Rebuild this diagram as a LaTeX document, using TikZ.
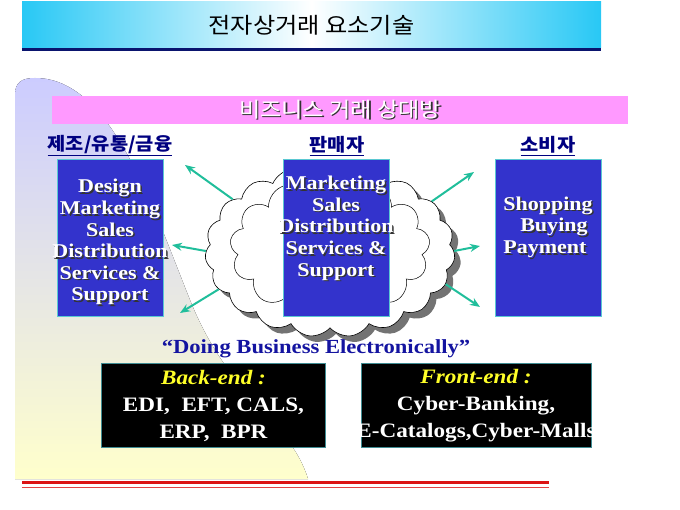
\documentclass[tikz,border=0pt]{standalone}
\usepackage{fontspec}
\setmainfont{Liberation Serif}[FakeStretch=1.13]
\newfontfamily\krfont{Noto Sans CJK KR}[FakeStretch=1.1]
\usetikzlibrary{shapes.symbols,shadows,arrows.meta}

\definecolor{tcyan}{RGB}{40,200,245}
\definecolor{titleline}{RGB}{10,20,110}
\definecolor{barpink}{RGB}{255,153,255}
\definecolor{boxblue}{RGB}{51,51,204}
\definecolor{boxline}{RGB}{90,200,210}
\definecolor{arrowteal}{RGB}{32,190,155}
\definecolor{labnavy}{RGB}{0,0,128}
\definecolor{slogan}{RGB}{20,20,160}
\definecolor{lavender}{RGB}{204,204,255}
\definecolor{paleyellow}{RGB}{255,255,204}
\definecolor{endyellow}{RGB}{255,255,40}
\definecolor{linered}{RGB}{220,20,20}

\newcommand{\shd}[1]{\leavevmode\rlap{\kern1.5pt\raisebox{-1.5pt}{\textcolor{black!80}{#1}}}#1}

\tikzset{
  partybox/.style={draw=boxline, line width=0.8pt, fill=boxblue, minimum width=106pt, minimum height=157pt, inner sep=0pt},
  techbox/.style={draw=boxline!70!black, line width=0.8pt, fill=black, minimum height=84pt, inner sep=0pt},
  partytext/.style={text=white, font=\fontsize{19.5}{21.6}\selectfont\bfseries, align=center},
  techtext/.style={text=white, font=\fontsize{20.5}{27}\selectfont\bfseries, align=center},
  partylabel/.style={text=labnavy, font=\krfont\bfseries\fontsize{18}{20}\selectfont},
  outarrow/.style={draw=arrowteal, line width=2pt, -{Stealth[length=10pt,width=8pt]}}
}

\begin{document}
\begin{tikzpicture}[x=1pt,y=-1pt]
\useasboundingbox (0,0) rectangle (680,510);

\fill[top color=lavender, bottom color=paleyellow] (15,479) -- (15,95) .. controls (15,82) and (22,78) .. (35,78) .. controls (110,78) and (150,200) .. (190,300) .. controls (230,400) and (290,420) .. (308,479) -- cycle;

\node[minimum width=579pt, minimum height=46pt, inner sep=0pt, left color=tcyan, right color=tcyan, middle color=white, font=\krfont\fontsize{22}{24}\selectfont] (title) at (311.5,25) {전자상거래 요소기술};
\draw[titleline, line width=3pt] ([yshift=-1.5pt]title.south west) -- ([yshift=-1.5pt]title.south east);

\node[fill=barpink, minimum width=576pt, minimum height=28pt, inner sep=0pt, text=white, font=\krfont\fontsize{21}{22}\selectfont] (partners) at (340,110) {\shd{비즈니스 거래 상대방}};

\node[partylabel] (makerlab) at (110,146) {\underline{제조/유통/금융}};
\node[partylabel] (sellerlab) at (337,146) {\underline{판매자}};
\node[partylabel] (buyerlab) at (548,146) {\underline{소비자}};

\node[cloud, cloud puffs=19, cloud puff arc=110, cloud ignores aspect, draw, line width=0.6pt, fill=white, minimum width=250pt, minimum height=172pt, drop shadow={shadow xshift=6pt, shadow yshift=-6pt, fill=black!55, opacity=1}] (net) at (330,251) {};
\node[cloud, cloud puffs=13, cloud ignores aspect, draw, line width=0.5pt, minimum width=200pt, minimum height=140pt] (netin) at (330,248) {};

\coordinate (hUL) at (185,165);
\coordinate (hL) at (172,245);
\coordinate (hLL) at (180,313);
\coordinate (hUR) at (474,172);
\coordinate (hR) at (480,246);
\coordinate (hLR) at (480,307);
\draw[outarrow] (net.152) -- (hUL);
\draw[outarrow] (net.180) -- (hL);
\draw[outarrow] (net.199) -- (hLL);
\draw[outarrow] (net.26) -- (hUR);
\draw[outarrow] (net.0) -- (hR);
\draw[outarrow] (net.344) -- (hLR);

\node[partybox] (maker) at (110,237.5) {};
\node[partytext] (makertxt) at (110,243) {\shd{Design}\\\shd{Marketing}\\\shd{Sales}\\\shd{Distribution}\\\shd{Services \&}\\\shd{Support}};
\node[partybox] (seller) at (336.5,238) {};
\node[partytext] (sellertxt) at (336,229) {\shd{Marketing}\\\shd{Sales}\\\shd{Distribution}\\\shd{Services \&}\\\shd{Support}};
\node[partybox] (buyer) at (548,238) {};
\node[partytext, align=left] (buyertxt) at (548,228) {\shd{Shopping}\\\hspace*{17pt}\shd{Buying}\\\shd{Payment}};

\node[text=slogan, font=\fontsize{20}{24}\selectfont\bfseries] (slogan) at (316,349) {“Doing Business Electronically”};

\node[techbox, minimum width=224pt] (back) at (213.5,405) {};
\node[techtext] (backtxt) at (213.5,406) {\textcolor{endyellow}{\itshape Back-end :}\\EDI,\ \ EFT, CALS,\\ERP,\ \ BPR};
\node[techbox, minimum width=230pt] (front) at (476,405) {};
\node[techtext] (fronttxt) at (476,406) {\textcolor{endyellow}{\itshape Front-end :}\\Cyber-Banking,\\E-Catalogs,Cyber-Malls};

\draw[linered, line width=3pt] (22,482) -- (549,482);
\draw[linered!80!white, line width=0.8pt] (22,487.5) -- (549,487.5);
\end{tikzpicture}
\end{document}
